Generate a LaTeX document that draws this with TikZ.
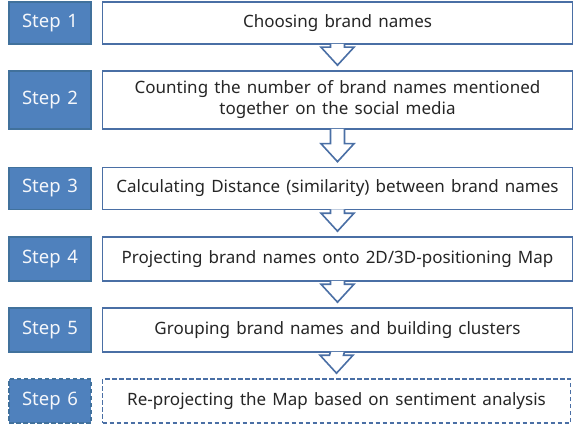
\documentclass[tikz,border=0pt]{standalone}
\usepackage{fontspec}
\setmainfont{Noto Sans}[WordSpace=1.4]
\usepackage{tikz}
\usepackage{xcolor}
\usetikzlibrary{positioning,calc}

\definecolor{stepblue}{HTML}{4F81BD}
\definecolor{stepedge}{HTML}{41719C}
\definecolor{boxedge}{HTML}{4A6FA5}
\definecolor{inktext}{HTML}{262626}

\begin{document}
\begin{tikzpicture}[
          x=1pt, y=-1pt,
          stepbox/.style={draw=stepedge, line width=1.4pt, fill=stepblue, minimum width=82pt, minimum height=42pt, inner sep=0pt, text=white!94!stepblue, font=\fontsize{18.5}{20}\selectfont},
          taskbox/.style={draw=boxedge, line width=1.6pt, fill=white, minimum width=470pt, minimum height=42pt, inner sep=0pt, align=center, text=inktext, font=\fontsize{17}{21}\selectfont},
          blockarr/.style={draw=boxedge, line width=1.6pt, fill=white, line join=miter},
          dashbox/.style={dash pattern=on 4.5pt off 2.5pt}
      ]
        \useasboundingbox (0,0) rectangle (581,441);
        % steps on the left, tasks on the right
        \node[stepbox] (s1) at (50,23) {Step 1};
        \node[stepbox, minimum height=58pt] (s2) at (50,100) {Step 2};
        \node[stepbox] (s3) at (50,188.5) {Step 3};
        \node[stepbox, minimum height=44pt] (s4) at (50,259) {Step 4};
        \node[stepbox, minimum height=44pt] (s5) at (50,330) {Step 5};
        \node[stepbox, minimum height=44pt, dashbox] (s6) at (50,401) {Step 6};
        \node[taskbox, right=10pt of s1] (t1) {Choosing brand names};
        \node[taskbox, right=10pt of s2, minimum height=58pt] (t2) {Counting the number of brand names mentioned\\together on the social media};
        \node[taskbox, right=10pt of s3] (t3) {Calculating Distance (similarity) between brand names};
        \node[taskbox, right=10pt of s4, minimum height=44pt] (t4) {Projecting brand names onto 2D/3D-positioning Map};
        \node[taskbox, right=10pt of s5, minimum height=44pt] (t5) {Grouping brand names and building clusters};
        \node[taskbox, right=10pt of s6, minimum height=44pt, minimum width=468pt, dashbox] (t6) {Re-projecting the Map based on sentiment analysis};
        % hollow arrows between the tasks
        \foreach \a/\b in {t1/t2, t2/t3, t3/t4, t4/t5, t5/t6}
          \draw[blockarr] ($(\a.south)+(-7,-1)$) -- ($(\b.north)+(-7,-23)$)
            -- ($(\b.north)+(-16.5,-23)$) -- ($(\b.north)+(0,-5)$)
            -- ($(\b.north)+(16.5,-23)$) -- ($(\b.north)+(7,-23)$)
            -- ($(\a.south)+(7,-1)$);
      \end{tikzpicture}
\end{document}
